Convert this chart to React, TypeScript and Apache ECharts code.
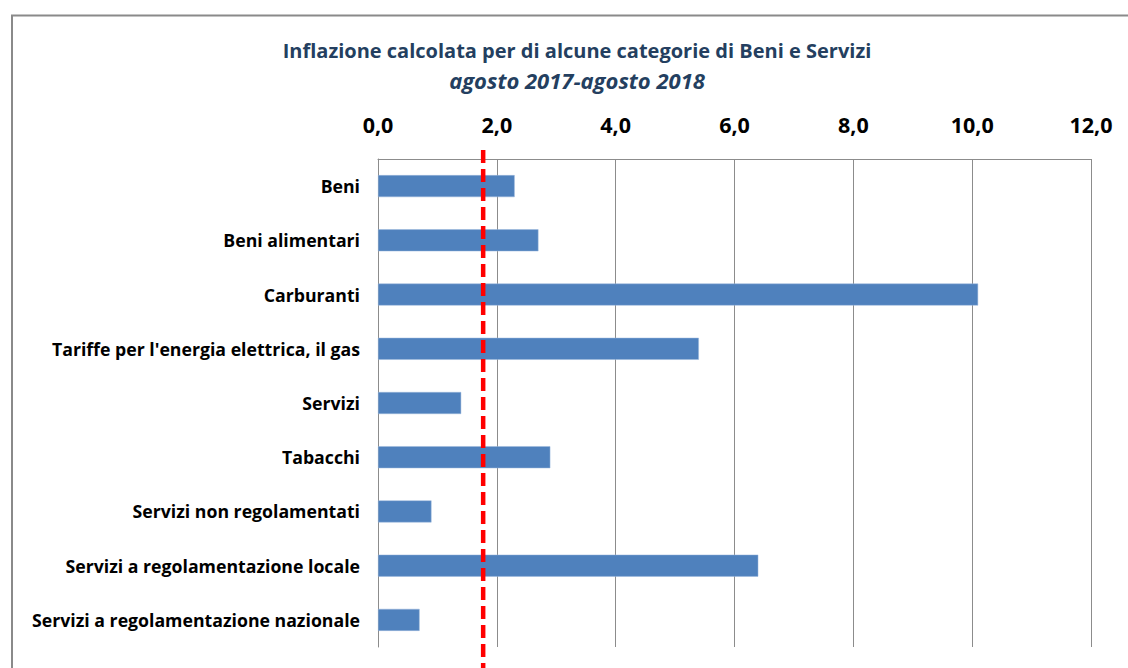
import React, { useEffect, useRef } from "react";
import * as echarts from "echarts";

const categories = [
  "Beni",
  "Beni alimentari",
  "Carburanti",
  "Tariffe per l'energia elettrica, il gas",
  "Servizi",
  "Tabacchi",
  "Servizi non regolamentati",
  "Servizi a regolamentazione locale",
  "Servizi a regolamentazione nazionale",
];
const values = [2.3, 2.7, 10.1, 5.4, 1.4, 2.9, 0.9, 6.4, 0.7];
const referenceValue = 1.77;
const titleText = "Inflazione calcolata per di alcune categorie di Beni e Servizi";
const subtitleText = "agosto 2017-agosto 2018";

const FONT = "'Open Sans', sans-serif";

export default function App() {
  const ref = useRef<HTMLDivElement>(null);
  useEffect(() => {
    document.body.style.margin = "0";
    document.body.style.overflow = "hidden";
    const chart = echarts.init(ref.current!, null, { renderer: "svg" });
    chart.setOption({
      animation: false,
      backgroundColor: "#ffffff",
      grid: { left: 378, right: 37, top: 159, bottom: 21, containLabel: false },
      xAxis: {
        type: "value",
        position: "top",
        min: 0,
        max: 12,
        interval: 2,
        axisLine: { show: true, lineStyle: { color: "#8c8c8c", width: 1 } },
        axisTick: { show: false },
        splitLine: { show: true, lineStyle: { color: "#8c8c8c", width: 1 } },
        axisLabel: {
          margin: 24,
          fontFamily: FONT,
          fontWeight: "bold",
          fontSize: 21.5,
          color: "#000",
          formatter: (v: number) => v.toFixed(1).replace(".", ","),
        },
      },
      yAxis: {
        type: "category",
        inverse: true,
        data: categories,
        axisLine: { show: true, lineStyle: { color: "#8c8c8c", width: 1 } },
        axisTick: { show: false },
        axisLabel: {
          margin: 18,
          fontFamily: FONT,
          fontWeight: "bold",
          fontSize: 17.7,
          color: "#000",
        },
      },
      series: [
        {
          type: "bar",
          data: values,
          barWidth: 22,
          itemStyle: { color: "#4F81BD", borderColor: "#9db8dc", borderWidth: 0.5 },
        },
      ],
    });
    const xRef = chart.convertToPixel({ xAxisIndex: 0 }, referenceValue) as number;
    chart.setOption({
      graphic: [
        {
          type: "polyline",
          shape: { points: [[12, 668], [12, 15.5], [1128, 15.5]] },
          style: { fill: "none", stroke: "#8a8a8a", lineWidth: 2 },
          silent: true,
        },
        {
          type: "text",
          x: 577,
          y: 50,
          style: {
            text: titleText,
            textAlign: "center",
            textVerticalAlign: "middle",
            fontFamily: FONT,
            fontWeight: "bold",
            fontSize: 20,
            fill: "#243F60",
          },
        },
        {
          type: "text",
          x: 577,
          y: 80,
          style: {
            text: subtitleText,
            textAlign: "center",
            textVerticalAlign: "middle",
            fontFamily: FONT,
            fontWeight: "bold",
            fontStyle: "italic",
            fontSize: 22,
            fill: "#243F60",
          },
        },
        {
          type: "line",
          z: 100,
          shape: { x1: xRef, y1: 150, x2: xRef, y2: 668 },
          style: { stroke: "#FF0000", lineWidth: 4.5, lineDash: [13, 6] },
          silent: true,
        },
      ],
    });
    return () => chart.dispose();
  }, []);
  return (
    <div
      ref={ref}
      style={{ position: "absolute", left: 0, top: 0, width: 1128, height: 668, overflow: "hidden" }}
    />
  );
}
